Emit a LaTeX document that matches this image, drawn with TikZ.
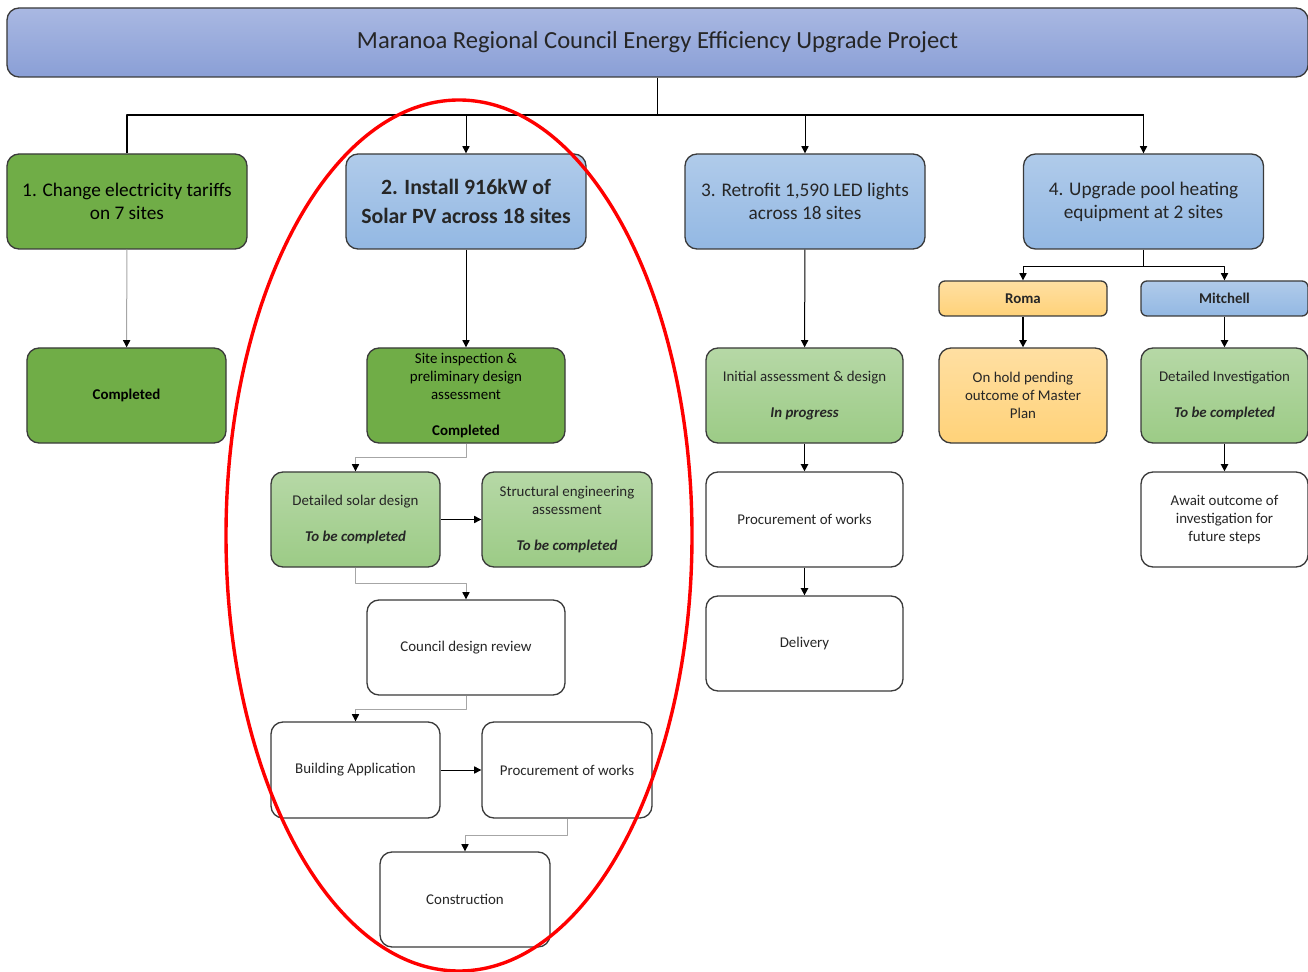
\documentclass[tikz,border=0pt]{standalone}
\usepackage{fontspec}
\setmainfont{Carlito}
\usetikzlibrary{arrows.meta}

\definecolor{titletop}{HTML}{A9B8E2}
\definecolor{titlebot}{HTML}{8A9FD6}
\definecolor{bluetop}{HTML}{B0CBEA}
\definecolor{bluebot}{HTML}{93B8E3}
\definecolor{leafgreen}{HTML}{70AD47}
\definecolor{mintop}{HTML}{B6D8A6}
\definecolor{minbot}{HTML}{9CCB86}
\definecolor{ambertop}{HTML}{FFDFA2}
\definecolor{amberbot}{HTML}{FFD279}
\definecolor{edge}{HTML}{3A3A3A}
\definecolor{ink}{HTML}{262626}

\begin{document}
\begin{tikzpicture}[x=0.25mm,y=-0.25mm,line join=round,
  box/.style={draw=edge,line width=0.33mm,rounded corners=3mm,align=center,
    inner sep=0pt,text=ink,font=\fontsize{10.6}{12.8}\selectfont},
  wide/.style={minimum width=60mm,minimum height=23.75mm,
    font=\fontsize{13.7}{16.4}\selectfont},
  bluebox/.style={box,top color=bluetop,bottom color=bluebot},
  donebox/.style={box,fill=leafgreen,text=black},
  openbox/.style={box,top color=mintop,bottom color=minbot},
  holdbox/.style={box,top color=ambertop,bottom color=amberbot},
  plainbox/.style={box,fill=white},
  link/.style={draw=black,line width=0.25mm,-{Triangle[length=1.8mm,width=1.8mm]}},
  thinlink/.style={draw=gray!70,line width=0.25mm,
    -{Triangle[length=1.8mm,width=1.8mm,fill=black,color=black]}}]
  % Keep the page the size of the original artwork.
  \useasboundingbox (0,0) rectangle (1308,972);

  % Project banner and the four streams.
  \node[box,top color=titletop,bottom color=titlebot,minimum width=325.25mm,
    minimum height=17.25mm,rounded corners=3mm,
    font=\fontsize{17.5}{20}\selectfont] (title) at (657.5,42.5)
    {Maranoa Regional Council Energy Efficiency Upgrade Project};

  \node[donebox,wide] (tariffs) at (127,201.5)
    {1. Change electricity tariffs\\on 7 sites};
  \node[bluebox,wide,font=\fontsize{15.5}{20.6}\selectfont\bfseries] (solar) at (466,201.5)
    {2. Install 916kW of\\Solar PV across 18 sites};
  \node[bluebox,wide] (led) at (805,201.5)
    {3. Retrofit 1,590 LED lights\\across 18 sites};
  \node[bluebox,wide] (pool) at (1143.5,201.5)
    {4. Upgrade pool heating\\equipment at 2 sites};

  % Stream 1.
  \node[donebox,minimum width=49.75mm,minimum height=23.75mm] (tariffsdone) at (126.5,395.5)
    {\textbf{Completed}};

  % Stream 2 steps.
  \node[donebox,minimum width=49.5mm,minimum height=23.75mm] (siteinsp) at (466,395.5)
    {Site inspection \&\\preliminary design\\assessment\\[12.8pt]\textbf{Completed}};
  \node[openbox,minimum width=42.25mm,minimum height=23.75mm] (solardesign) at (355.5,519.5)
    {Detailed solar design\\[12.8pt]\textbf{\textit{To be completed}}};
  \node[openbox,minimum width=42.5mm,minimum height=23.75mm] (structural) at (567,519.5)
    {Structural engineering\\assessment\\[12.8pt]\textbf{\textit{To be completed}}};
  \node[plainbox,minimum width=49.5mm,minimum height=23.75mm] (review) at (466,647.5)
    {Council design review};
  \node[plainbox,minimum width=42.25mm,minimum height=24mm] (buildapp) at (355.5,770)
    {Building Application};
  \node[plainbox,minimum width=42.5mm,minimum height=24mm] (solarproc) at (567,770)
    {Procurement of works};
  \node[plainbox,minimum width=42.5mm,minimum height=23.75mm] (construct) at (465,899.5)
    {Construction};

  % Stream 3 steps.
  \node[openbox,minimum width=49.25mm,minimum height=23.75mm] (ledassess) at (804.5,395.5)
    {Initial assessment \& design\\[12.8pt]\textbf{\textit{In progress}}};
  \node[plainbox,minimum width=49.25mm,minimum height=23.75mm] (ledproc) at (804.5,519.5)
    {Procurement of works};
  \node[plainbox,minimum width=49.25mm,minimum height=23.75mm] (leddeliver) at (804.5,643.5)
    {Delivery};

  % Stream 4 sites and steps.
  \node[holdbox,minimum width=42mm,minimum height=8.75mm,rounded corners=1.5mm] (roma) at (1023,298.5)
    {\textbf{Roma}};
  \node[bluebox,minimum width=41.75mm,minimum height=8.75mm,rounded corners=1.5mm] (mitchell) at (1224.5,298.5)
    {\textbf{Mitchell}};
  \node[holdbox,minimum width=42mm,minimum height=23.75mm] (romahold) at (1023,395.5)
    {On hold pending\\outcome of Master\\Plan};
  \node[openbox,minimum width=41.75mm,minimum height=23.75mm] (mitchinv) at (1224.5,395.5)
    {Detailed Investigation\\[12.8pt]\textbf{\textit{To be completed}}};
  \node[plainbox,minimum width=41.75mm,minimum height=23.75mm] (mitchawait) at (1224.5,519.5)
    {Await outcome of\\investigation for\\future steps};

  % Banner to streams.
  \coordinate (bus) at (657.5,115);
  \draw[line width=0.3mm] (title.south) -- (bus);
  \draw[line width=0.3mm] (tariffs.north) -- (tariffs.north |- bus) -- (pool.north |- bus);
  \draw[link] (solar.north |- bus) -- (solar.north);
  \draw[link] (led.north |- bus) -- (led.north);
  \draw[link] (pool.north |- bus) -- (pool.north);

  % Step connectors.
  \draw[thinlink] (tariffs) -- (tariffsdone);
  \draw[link] (solar) -- (siteinsp);
  \draw[thinlink] (siteinsp.south) -- ++(0,14) -| (solardesign.north);
  \draw[link] (solardesign) -- (structural);
  \draw[thinlink] (solardesign.south) -- ++(0,16) -| (review.north);
  \draw[thinlink] (review.south) -- ++(0,14) -| (buildapp.north);
  \draw[link] (buildapp) -- (solarproc);
  \draw[thinlink] (solarproc.south) -- ++(0,17) -| (construct.north);

  \draw[link] (led) -- (ledassess);
  \draw[link,line width=0.4mm] (ledassess) -- (ledproc);
  \draw[link,line width=0.4mm] (ledproc) -- (leddeliver);

  \draw[line width=0.25mm] (pool.south) -- ++(0,17) coordinate (split);
  \draw[link] (split) -| (roma.north);
  \draw[link] (split) -| (mitchell.north);
  \draw[link,line width=0.4mm] (roma) -- (romahold);
  \draw[link,line width=0.4mm] (mitchell) -- (mitchinv);
  \draw[link,line width=0.4mm] (mitchinv) -- (mitchawait);

  % Highlight round the solar stream.
  \draw[red,line width=0.85mm] (459,535.5) ellipse [x radius=233,y radius=435.5];
\end{tikzpicture}
\end{document}
